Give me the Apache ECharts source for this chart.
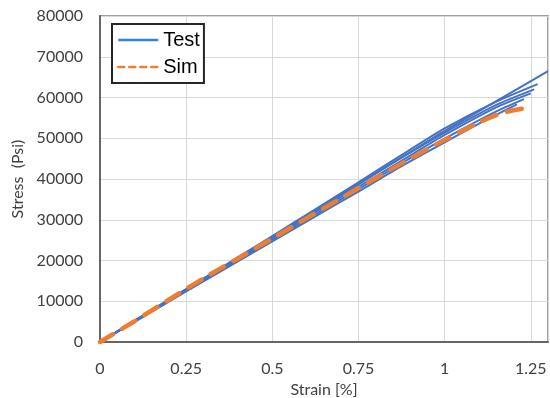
<!DOCTYPE html>
<html>
<head>
<meta charset="utf-8">
<script src="https://cdn.jsdelivr.net/npm/echarts@6/dist/echarts.min.js"></script>
<style>
  html, body { margin: 0; padding: 0; background: #fff; }
  #chart { width: 550px; height: 398px; }
</style>
</head>
<body>
<div id="chart"></div>
<script>
// Strain [%] sample points and stress (psi) for six tensile test specimens
const test1Strain = [0, 0.12, 0.25, 0.37, 0.5, 0.62, 0.75, 0.87, 1.0, 1.15, 1.3];
const test1Stress = [0, 6100, 12700, 18900, 25600, 31900, 38700, 45000, 51800, 59100, 66500];
const test2Strain = [0, 0.12, 0.25, 0.37, 0.5, 0.62, 0.75, 0.87, 1.0, 1.15, 1.27];
const test2Stress = [0, 6300, 13000, 19200, 26000, 32300, 39200, 45600, 52400, 59000, 63300];
const test3Strain = [0, 0.12, 0.25, 0.37, 0.5, 0.62, 0.75, 0.87, 1.0, 1.15, 1.25];
const test3Stress = [0, 6200, 12800, 18800, 25500, 31600, 38100, 44200, 50800, 57600, 61000];
const test4Strain = [0, 0.12, 0.25, 0.37, 0.5, 0.62, 0.75, 0.87, 1.0, 1.15, 1.23];
const test4Stress = [0, 6000, 12600, 18500, 25100, 31100, 37500, 43600, 49900, 56600, 59600];
const test5Strain = [0, 0.12, 0.25, 0.37, 0.5, 0.62, 0.75, 0.87, 1.0, 1.1, 1.21];
const test5Stress = [0, 5900, 12400, 18300, 24700, 30600, 36900, 42900, 49000, 53600, 58300];
const test6Strain = [0, 0.12, 0.25, 0.37, 0.5, 0.62, 0.75, 0.87, 1.0, 1.15, 1.26];
const test6Stress = [0, 6200, 12900, 19100, 25800, 32100, 38800, 45000, 51400, 58200, 62000];

// Simulated stress-strain response
const simStrain = [0, 0.1, 0.2, 0.3, 0.4, 0.5, 0.6, 0.7, 0.8, 0.9, 1.0, 1.1, 1.15, 1.19, 1.235];
const simStress = [0, 5100, 10400, 15600, 20500, 25400, 30400, 35300, 40200, 45000, 49600, 53900, 55700, 56700, 57400];

// Axis ticks
const xTicks = [0, 0.25, 0.5, 0.75, 1, 1.25];
const yTicks = [0, 10000, 20000, 30000, 40000, 50000, 60000, 70000, 80000];

const pairs = (xs, ys) => xs.map((x, i) => [x, ys[i]]);

const testSets = [
  [test1Strain, test1Stress],
  [test2Strain, test2Stress],
  [test3Strain, test3Stress],
  [test4Strain, test4Stress],
  [test5Strain, test5Stress],
  [test6Strain, test6Stress]
];

const labelFont = { fontFamily: 'Lato', fontSize: 16, color: '#404040' };

const series = testSets.map(([xs, ys]) => ({
  name: 'Test',
  type: 'line',
  data: pairs(xs, ys),
  symbol: 'none',
  smooth: 0.2,
  itemStyle: { color: '#4472C4' },
  lineStyle: { color: '#4472C4', width: 2 },
  z: 2
}));

series.push({
  name: 'Sim',
  type: 'line',
  data: pairs(simStrain, simStress),
  symbol: 'none',
  smooth: 0.3,
  itemStyle: { color: '#ED7D31' },
  lineStyle: { color: '#ED7D31', width: 4.5, type: [15, 11], cap: 'round' },
  z: 3
});

const chart = echarts.init(document.getElementById('chart'), null, { renderer: 'canvas' });
chart.setOption({
  animation: false,
  backgroundColor: '#fff',
  grid: {
    left: 100, right: 2, top: 16, bottom: 56,
    outerBoundsMode: 'none',
    containLabel: false,
    show: true, borderColor: '#808080', borderWidth: 1.5
  },
  legend: {
    show: true,
    left: 112, top: 24,
    orient: 'vertical',
    padding: [5, 4, 5, 5],
    itemGap: 5,
    itemWidth: 40,
    itemHeight: 14,
    borderColor: '#262626',
    borderWidth: 2,
    backgroundColor: '#fff',
    textStyle: { fontFamily: 'Liberation Sans', fontSize: 20, color: '#000', lineHeight: 22 },
    data: [
      { name: 'Test', itemStyle: { opacity: 0 }, lineStyle: { color: '#2E86D6', width: 2.5, type: 'solid' } },
      { name: 'Sim', itemStyle: { opacity: 0 }, lineStyle: { color: '#ED7D31', width: 2.5, type: [6, 5] } }
    ]
  },
  xAxis: {
    type: 'value',
    min: 0, max: 1.3, interval: 0.25,
    name: 'Strain [%]',
    nameLocation: 'middle',
    nameGap: 37,
    nameTextStyle: labelFont,
    axisLine: { show: true, lineStyle: { color: '#666', width: 2 } },
    axisTick: { show: false },
    axisLabel: {
      ...labelFont, margin: 19, showMaxLabel: false,
      formatter: v => (xTicks.some(t => Math.abs(t - v) < 1e-9) ? String(v) : '')
    },
    splitLine: { show: true, lineStyle: { color: '#d9d9d9', width: 1 } }
  },
  yAxis: {
    type: 'value',
    min: yTicks[0], max: yTicks[yTicks.length - 1], interval: 10000,
    name: 'Stress  (Psi)',
    nameLocation: 'middle',
    nameGap: 73,
    nameTextStyle: labelFont,
    axisLine: { show: true, lineStyle: { color: '#666', width: 2 } },
    axisTick: { show: false },
    axisLabel: { ...labelFont, margin: 17, formatter: v => String(v) },
    splitLine: { show: true, lineStyle: { color: '#d9d9d9', width: 1 } }
  },
  series
});
</script>
</body>
</html>
